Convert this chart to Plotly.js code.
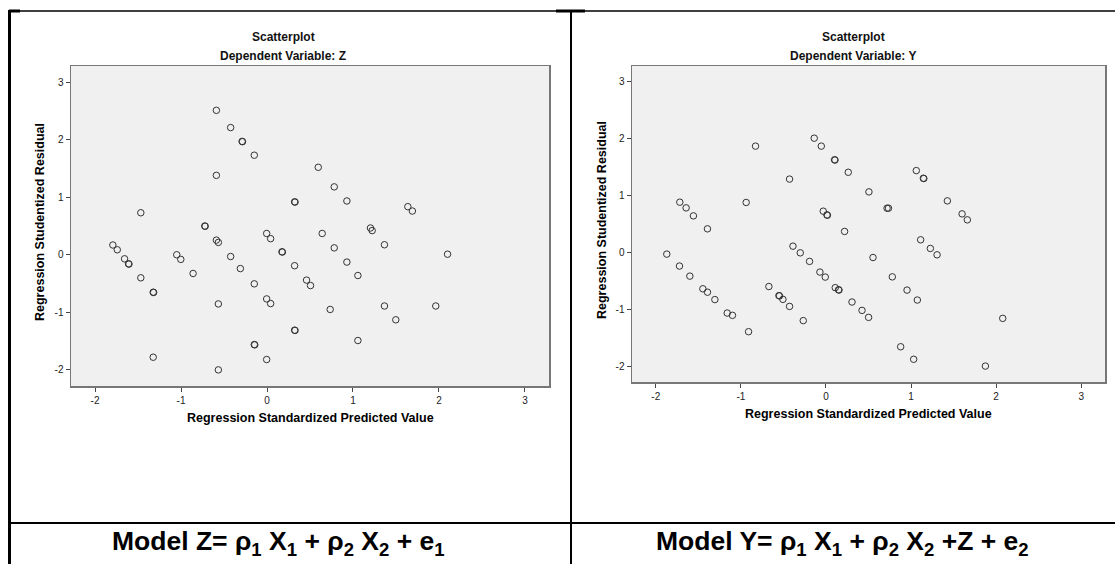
<!DOCTYPE html>
<html>
<head>
<meta charset="utf-8">
<script src="https://cdn.plot.ly/plotly-3.0.1.min.js"></script>
<style>html,body{margin:0;padding:0;background:#fff;}#chart{width:1115px;height:564px;}</style>
</head>
<body>
<div id="chart"></div>
<script>
// Left panel: Dependent Variable Z
var leftX = [-0.589,-0.423,-0.29,-0.285,-0.148,-0.589,0.321,0.326,-1.468,-0.724,-0.719,-0.004,0.042,-0.589,-0.566,-1.793,-1.742,0.174,0.179,-1.05,-1.657,-0.423,-1.611,-1.606,-1.003,0.321,-1.468,-0.86,-0.31,-1.324,-1.319,-0.148,0.46,0.506,-0.566,-0.004,0.042,0.321,0.326,-0.148,-0.143,-0.004,-1.324,-0.566,0.596,0.782,0.929,1.638,1.691,0.642,1.203,1.223,0.782,1.366,2.10,0.929,1.057,0.735,1.366,1.963,1.498,1.057];
var leftY = [2.51,2.21,1.97,1.965,1.73,1.38,0.92,0.915,0.73,0.50,0.495,0.37,0.28,0.255,0.215,0.17,0.087,0.052,0.047,0.0,-0.07,-0.03,-0.157,-0.162,-0.08,-0.19,-0.40,-0.325,-0.24,-0.65,-0.655,-0.505,-0.44,-0.535,-0.854,-0.767,-0.848,-1.31,-1.315,-1.56,-1.565,-1.82,-1.78,-2.0,1.52,1.18,0.935,0.836,0.76,0.37,0.465,0.42,0.12,0.174,0.01,-0.127,-0.36,-0.95,-0.89,-0.89,-1.13,-1.49];
// Right panel: Dependent Variable Y
var rightX = [-0.138,-0.828,-0.055,0.101,0.106,0.262,-0.428,0.505,-1.718,-0.938,-1.644,-1.558,-0.032,0.012,0.017,-1.393,0.219,-1.871,-0.388,-0.302,1.062,1.145,1.150,0.718,0.735,1.427,1.6,1.662,1.113,1.227,1.306,0.553,-1.722,-1.6,-1.447,-1.393,-1.306,-1.161,-1.099,-0.91,-0.671,-0.553,-0.546,-0.506,-0.428,-0.267,-0.193,-0.071,-0.008,0.109,0.148,0.153,0.306,0.424,0.501,0.78,0.953,1.074,2.078,0.878,1.031,1.874];
var rightY = [2.01,1.87,1.87,1.63,1.625,1.41,1.29,1.065,0.884,0.879,0.784,0.643,0.726,0.66,0.655,0.415,0.369,-0.03,0.11,-0.007,1.44,1.305,1.30,0.778,0.778,0.907,0.678,0.573,0.222,0.07,-0.042,-0.09,-0.24,-0.417,-0.64,-0.70,-0.83,-1.067,-1.107,-1.395,-0.60,-0.76,-0.765,-0.826,-0.95,-1.20,-0.158,-0.346,-0.434,-0.62,-0.657,-0.662,-0.873,-1.02,-1.143,-0.43,-0.663,-0.838,-1.16,-1.66,-1.88,-2.0];
var tickVals = [-2,-1,0,1,2,3];
var tickText = ['-2','-1','0','1','2','3'];
var panelTitle = 'Scatterplot';
var leftSub = 'Dependent Variable: Z';
var rightSub = 'Dependent Variable: Y';
var xTitle = 'Regression Standardized Predicted Value';
var yTitle = 'Regression Studentized Residual';
var leftModel = 'Model Z= \u03c1<sub>1</sub> X<sub>1</sub> + \u03c1<sub>2</sub> X<sub>2</sub> + e<sub>1</sub>';
var rightModel = 'Model Y= \u03c1<sub>1</sub> X<sub>1</sub> + \u03c1<sub>2</sub> X<sub>2</sub> +Z + e<sub>2</sub>';

var W = 1115, H = 564;
function px(x){return x/W;}
function py(y){return 1 - y/H;}

var marker = {symbol:'circle-open', size:6.5, color:'#333', line:{width:1, color:'#333'}};
var traces = [
  {x:leftX, y:leftY, type:'scatter', mode:'markers', marker:marker, xaxis:'x', yaxis:'y', hoverinfo:'x+y'},
  {x:rightX, y:rightY, type:'scatter', mode:'markers', marker:marker, xaxis:'x2', yaxis:'y2', hoverinfo:'x+y'}
];

function axis(domain, anchor){
  return {
    domain: domain, anchor: anchor,
    range: [-2.28, 3.28],
    tickmode:'array', tickvals: tickVals, ticktext: tickText,
    ticks:'outside', ticklen:4, tickwidth:1, tickcolor:'#444',
    tickfont:{family:'Arial, Liberation Sans, sans-serif', size:10, color:'#222'},
    showgrid:false, zeroline:false,
    showline:true, mirror:true, linecolor:'#777', linewidth:1.5,
    fixedrange:true, automargin:false
  };
}
var tfont = {family:'Arial, Liberation Sans, sans-serif', size:12, color:'#111'};
var afont = {family:'Arial, Liberation Sans, sans-serif', size:12.5, color:'#000'};
var mfont = {family:'Liberation Sans Narrow, Arial Narrow, Liberation Sans, Arial, sans-serif', size:26.5, color:'#000'};

var layout = {
  width: W, height: H,
  margin:{l:0,r:0,t:0,b:0},
  paper_bgcolor:'#fff', plot_bgcolor:'#f0f0f0',
  showlegend:false,
  xaxis: axis([px(71), px(549)], 'y'),
  yaxis: axis([py(386), py(66)], 'x'),
  xaxis2: axis([px(632), px(1105)], 'y2'),
  yaxis2: axis([py(382), py(66)], 'x2'),
  annotations: [
    {text:'<b>'+panelTitle+'</b>', x:px(283), y:py(37), xref:'paper', yref:'paper', showarrow:false, font:tfont, xanchor:'center', yanchor:'middle'},
    {text:'<b>'+leftSub+'</b>', x:px(283), y:py(56), xref:'paper', yref:'paper', showarrow:false, font:tfont, xanchor:'center', yanchor:'middle'},
    {text:'<b>'+panelTitle+'</b>', x:px(853), y:py(37), xref:'paper', yref:'paper', showarrow:false, font:tfont, xanchor:'center', yanchor:'middle'},
    {text:'<b>'+rightSub+'</b>', x:px(853), y:py(56), xref:'paper', yref:'paper', showarrow:false, font:tfont, xanchor:'center', yanchor:'middle'},
    {text:'<b>'+xTitle+'</b>', x:px(310), y:py(418), xref:'paper', yref:'paper', showarrow:false, font:afont, xanchor:'center', yanchor:'middle'},
    {text:'<b>'+xTitle+'</b>', x:px(868), y:py(414), xref:'paper', yref:'paper', showarrow:false, font:afont, xanchor:'center', yanchor:'middle'},
    {text:'<b>'+yTitle+'</b>', x:px(40), y:py(222), xref:'paper', yref:'paper', showarrow:false, font:afont, textangle:-90, xanchor:'center', yanchor:'middle'},
    {text:'<b>'+yTitle+'</b>', x:px(602), y:py(220), xref:'paper', yref:'paper', showarrow:false, font:afont, textangle:-90, xanchor:'center', yanchor:'middle'},
    {text:'<b>'+leftModel+'</b>', x:px(278), y:py(543), xref:'paper', yref:'paper', showarrow:false, font:mfont, xanchor:'center', yanchor:'middle'},
    {text:'<b>'+rightModel+'</b>', x:px(842), y:py(543), xref:'paper', yref:'paper', showarrow:false, font:mfont, xanchor:'center', yanchor:'middle'}
  ],
  shapes: [
    {type:'line', xref:'paper', yref:'paper', x0:px(9), x1:1, y0:py(11), y1:py(11), line:{color:'#000', width:1.5}},
    {type:'line', xref:'paper', yref:'paper', x0:px(9), x1:px(20), y0:py(11), y1:py(11), line:{color:'#000', width:3}},
    {type:'line', xref:'paper', yref:'paper', x0:px(556), x1:px(585), y0:py(11), y1:py(11), line:{color:'#000', width:3}},
    {type:'line', xref:'paper', yref:'paper', x0:px(9.5), x1:px(9.5), y0:py(10), y1:0, line:{color:'#000', width:3}},
    {type:'line', xref:'paper', yref:'paper', x0:px(571), x1:px(571), y0:py(11), y1:0, line:{color:'#000', width:2}},
    {type:'line', xref:'paper', yref:'paper', x0:px(9), x1:1, y0:py(523), y1:py(523), line:{color:'#000', width:2}}
  ]
};
Plotly.newPlot('chart', traces, layout, {displayModeBar:false, staticPlot:true});
</script>
</body>
</html>
